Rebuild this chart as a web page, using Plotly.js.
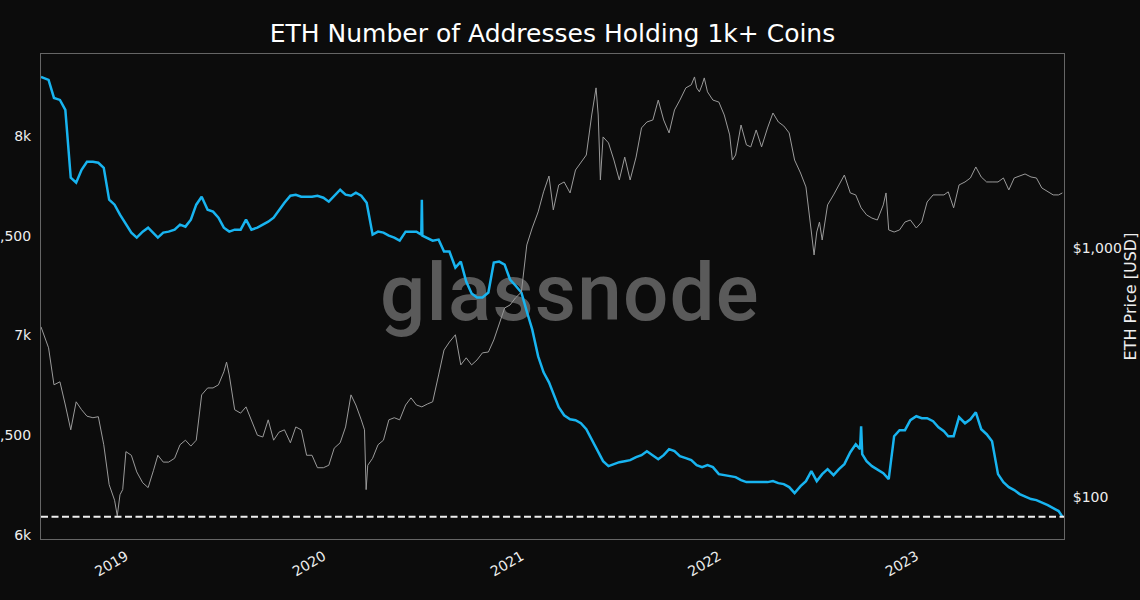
<!DOCTYPE html>
<html>
<head>
<meta charset="utf-8">
<script src="https://cdn.plot.ly/plotly-3.0.1.min.js"></script>
<style>
    html, body { margin: 0; padding: 0; background: #0c0c0c; }
    #chart { width: 1140px; height: 600px; }
</style>
</head>
<body>
<div id="chart"></div>
<script>
// Addresses holding 1k+ ETH (left axis)
const addrDates = [
    '2018-07-28', '2018-08-01', '2018-08-11', '2018-08-21', '2018-09-01', '2018-09-11', '2018-09-21', '2018-10-01', '2018-10-11', '2018-10-21', '2018-11-01', '2018-11-11', '2018-11-21', '2018-12-01', '2018-12-11', '2018-12-21',
    '2019-01-01', '2019-01-11', '2019-01-21', '2019-02-01', '2019-02-11', '2019-02-21', '2019-03-01', '2019-03-11', '2019-03-21', '2019-04-01', '2019-04-11', '2019-04-21', '2019-05-01', '2019-05-11', '2019-05-21', '2019-06-01', '2019-06-11', '2019-06-21', '2019-07-01', '2019-07-11', '2019-07-21', '2019-08-01', '2019-08-11', '2019-08-21', '2019-09-01', '2019-09-11', '2019-09-21', '2019-10-01', '2019-10-11', '2019-10-21', '2019-11-01', '2019-11-11', '2019-11-21', '2019-12-01', '2019-12-11', '2019-12-21',
    '2020-01-01', '2020-01-11', '2020-01-21', '2020-02-01', '2020-02-11', '2020-02-21', '2020-03-01', '2020-03-11', '2020-03-21', '2020-04-01', '2020-04-11', '2020-04-21', '2020-05-01', '2020-05-11', '2020-05-21', '2020-06-01', '2020-06-11', '2020-06-21', '2020-06-30', '2020-07-01', '2020-07-02', '2020-07-11', '2020-07-21', '2020-08-01', '2020-08-11', '2020-08-21', '2020-09-01', '2020-09-11', '2020-09-21', '2020-10-01', '2020-10-11', '2020-10-21', '2020-11-01', '2020-11-11', '2020-11-21', '2020-12-01', '2020-12-11', '2020-12-21',
    '2021-01-01', '2021-01-11', '2021-01-21', '2021-02-01', '2021-02-11', '2021-02-21', '2021-03-01', '2021-03-11', '2021-03-21', '2021-04-01', '2021-04-11', '2021-04-21', '2021-05-01', '2021-05-11', '2021-05-21', '2021-06-01', '2021-06-11', '2021-06-21', '2021-07-01', '2021-07-11', '2021-07-21', '2021-08-01', '2021-08-11', '2021-08-21', '2021-09-01', '2021-09-11', '2021-09-21', '2021-10-01', '2021-10-11', '2021-10-21', '2021-11-01', '2021-11-11', '2021-11-21', '2021-12-01', '2021-12-11', '2021-12-21',
    '2022-01-01', '2022-01-11', '2022-01-21', '2022-02-01', '2022-02-11', '2022-02-21', '2022-03-01', '2022-03-11', '2022-03-21', '2022-04-01', '2022-04-11', '2022-04-21', '2022-05-01', '2022-05-11', '2022-05-21', '2022-06-01', '2022-06-11', '2022-06-21', '2022-07-01', '2022-07-11', '2022-07-21', '2022-08-01', '2022-08-11', '2022-08-21', '2022-09-01', '2022-09-11', '2022-09-19', '2022-09-21', '2022-09-23', '2022-10-01', '2022-10-11', '2022-10-21', '2022-11-01', '2022-11-11', '2022-11-21', '2022-12-01', '2022-12-11', '2022-12-21',
    '2023-01-01', '2023-01-11', '2023-01-21', '2023-02-01', '2023-02-11', '2023-02-21', '2023-03-01', '2023-03-11', '2023-03-21', '2023-04-01', '2023-04-11', '2023-04-21', '2023-05-01', '2023-05-11', '2023-05-21', '2023-06-01', '2023-06-11', '2023-06-21', '2023-07-01', '2023-07-11', '2023-07-21', '2023-08-01', '2023-08-11', '2023-08-21', '2023-09-01', '2023-09-11', '2023-09-21', '2023-09-28',
];
const addrValues = [
    8295, 8290, 8280, 8190, 8180, 8130, 7790, 7765, 7830, 7870, 7870, 7865, 7840, 7680, 7655, 7605,
    7555, 7515, 7490, 7520, 7540, 7510, 7490, 7515, 7520, 7530, 7555, 7545, 7580, 7655, 7695, 7630, 7620, 7590, 7540, 7520, 7530, 7530, 7580, 7530, 7540, 7555, 7570, 7590, 7630, 7665, 7700, 7705, 7695, 7695, 7695, 7700,
    7690, 7670, 7700, 7730, 7705, 7700, 7715, 7700, 7665, 7505, 7520, 7515, 7500, 7490, 7475, 7520, 7520, 7520, 7505, 7680, 7500, 7490, 7475, 7480, 7420, 7420, 7340, 7370, 7270, 7210, 7190, 7190, 7215, 7365, 7370, 7355, 7280, 7250,
    7215, 7120, 7030, 6895, 6815, 6765, 6705, 6640, 6600, 6580, 6575, 6560, 6530, 6480, 6430, 6370, 6345, 6355, 6365, 6370, 6375, 6390, 6400, 6420, 6400, 6380, 6400, 6430, 6420, 6395, 6385, 6375, 6350, 6340, 6350, 6340,
    6305, 6300, 6295, 6290, 6275, 6265, 6265, 6265, 6265, 6265, 6270, 6260, 6255, 6240, 6210, 6245, 6270, 6320, 6270, 6305, 6330, 6300, 6330, 6355, 6415, 6455, 6430, 6545, 6405, 6370, 6345, 6330, 6310, 6280, 6495, 6525, 6525, 6575,
    6595, 6585, 6585, 6570, 6540, 6520, 6495, 6495, 6590, 6560, 6580, 6615, 6530, 6505, 6470, 6305, 6265, 6240, 6225, 6205, 6195, 6180, 6175, 6165, 6150, 6135, 6120, 6092,
];

// ETH price in USD (right axis, log)
const priceDates = [
    '2018-07-28', '2018-08-01', '2018-08-11', '2018-08-21', '2018-09-01', '2018-09-11', '2018-09-21', '2018-10-01', '2018-10-11', '2018-10-21', '2018-11-01', '2018-11-11', '2018-11-21', '2018-12-01', '2018-12-11', '2018-12-16', '2018-12-21', '2018-12-26',
    '2019-01-01', '2019-01-11', '2019-01-21', '2019-02-01', '2019-02-11', '2019-02-21', '2019-03-01', '2019-03-11', '2019-03-21', '2019-04-01', '2019-04-11', '2019-04-21', '2019-05-01', '2019-05-11', '2019-05-21', '2019-06-01', '2019-06-11', '2019-06-21', '2019-07-01', '2019-07-06', '2019-07-11', '2019-07-21', '2019-08-01', '2019-08-11', '2019-08-21', '2019-09-01', '2019-09-11', '2019-09-21', '2019-10-01', '2019-10-11', '2019-10-21', '2019-11-01', '2019-11-11', '2019-11-21', '2019-12-01', '2019-12-11', '2019-12-21',
    '2020-01-01', '2020-01-11', '2020-01-21', '2020-02-01', '2020-02-11', '2020-02-21', '2020-03-01', '2020-03-11', '2020-03-17', '2020-03-20', '2020-03-23', '2020-04-01', '2020-04-11', '2020-04-21', '2020-05-01', '2020-05-11', '2020-05-21', '2020-06-01', '2020-06-11', '2020-06-21', '2020-07-01', '2020-07-11', '2020-07-21', '2020-08-01', '2020-08-11', '2020-08-21', '2020-09-01', '2020-09-11', '2020-09-21', '2020-10-01', '2020-10-11', '2020-10-21', '2020-11-01', '2020-11-11', '2020-11-21', '2020-12-01', '2020-12-11', '2020-12-21',
    '2021-01-01', '2021-01-11', '2021-01-21', '2021-02-01', '2021-02-11', '2021-02-21', '2021-03-01', '2021-03-11', '2021-03-21', '2021-04-01', '2021-04-11', '2021-04-21', '2021-05-01', '2021-05-11', '2021-05-19', '2021-05-23', '2021-05-27', '2021-06-01', '2021-06-11', '2021-06-21', '2021-07-01', '2021-07-11', '2021-07-21', '2021-08-01', '2021-08-11', '2021-08-21', '2021-09-01', '2021-09-11', '2021-09-21', '2021-10-01', '2021-10-11', '2021-10-21', '2021-11-01', '2021-11-11', '2021-11-17', '2021-11-21', '2021-11-26', '2021-12-01', '2021-12-05', '2021-12-11', '2021-12-21',
    '2022-01-01', '2022-01-11', '2022-01-21', '2022-01-26', '2022-02-01', '2022-02-11', '2022-02-21', '2022-03-01', '2022-03-11', '2022-03-21', '2022-04-01', '2022-04-11', '2022-04-21', '2022-05-01', '2022-05-11', '2022-05-21', '2022-06-01', '2022-06-11', '2022-06-21', '2022-06-26', '2022-07-01', '2022-07-06', '2022-07-11', '2022-07-21', '2022-08-01', '2022-08-11', '2022-08-21', '2022-09-01', '2022-09-11', '2022-09-21', '2022-10-01', '2022-10-11', '2022-10-21', '2022-11-01', '2022-11-06', '2022-11-11', '2022-11-21', '2022-12-01', '2022-12-11', '2022-12-21',
    '2023-01-01', '2023-01-11', '2023-01-21', '2023-02-01', '2023-02-11', '2023-02-21', '2023-03-01', '2023-03-11', '2023-03-21', '2023-04-01', '2023-04-11', '2023-04-21', '2023-05-01', '2023-05-11', '2023-05-21', '2023-06-01', '2023-06-11', '2023-06-21', '2023-07-01', '2023-07-11', '2023-07-21', '2023-08-01', '2023-08-11', '2023-08-21', '2023-09-01', '2023-09-11', '2023-09-21', '2023-09-28',
];
const priceValues = [
    482, 456, 397, 282, 290, 234, 186, 241, 224, 211, 208, 210, 162, 112, 97, 84, 102, 107,
    152, 147, 126, 114, 109, 128, 147, 138, 138, 143, 162, 169, 160, 169, 257, 274, 274, 282, 318, 348, 309, 224, 217, 230, 204, 177, 174, 204, 169, 182, 186, 165, 191, 186, 147, 147, 131,
    131, 134, 157, 165, 191, 257, 234, 204, 186, 107, 134, 143, 162, 169, 204, 208, 204, 234, 250, 234, 230, 236, 241, 309, 389, 419, 448, 339, 362, 339, 355, 379, 382, 427, 491, 574, 590, 630,
    665, 1028, 1203, 1396, 1680, 1945, 1422, 1791, 1841, 1663, 2056, 2193, 2362, 3420, 4395, 3420, 1875, 2792, 2642, 2255, 1875, 2317, 1875, 2317, 3034, 3206, 3266, 3926, 3266, 2897, 3583, 3926, 4395, 4519, 4862, 4395, 4237, 4519, 4819, 4237, 3926,
    3855, 3420, 2844, 2255, 2362, 3118, 2594, 2546, 2978, 2546, 3034, 3484, 3206, 3090, 2897, 2255, 2000, 1758, 1159, 937, 1159, 1271, 1076, 1489, 1633, 1791, 1963, 1663, 1633, 1449, 1358, 1318, 1295, 1489, 1663, 1181, 1159, 1181, 1271, 1295,
    1203, 1271, 1530, 1633, 1633, 1633, 1680, 1449, 1791, 1841, 1910, 2115, 1928, 1841, 1841, 1841, 1910, 1710, 1910, 1945, 1982, 1928, 1910, 1742, 1680, 1633, 1633, 1663,
];

const yearTicks = ['2019-01-01', '2020-01-01', '2021-01-01', '2022-01-01', '2023-01-01'];
const yearLabels = ['2019', '2020', '2021', '2022', '2023'];
const addrTicks = [6000, 6500, 7000, 7500, 8000];
const addrTickLabels = ['6k', '6,500', '7k', '7,500', '8k'];
const priceTicks = [100, 1000];
const priceTickLabels = ['$100', '$1,000'];

const BG = '#0c0c0c';
const FONT = 'DejaVu Sans, sans-serif';
const TEXT = '#eeeeee';
const SPINE = '#666666';

const latestAddr = addrValues[addrValues.length - 1];

// watermark drawn as an svg image so it can sit below the lines
const watermarkSvg = '<svg xmlns="http://www.w3.org/2000/svg" width="400" height="110">'
    + '<text x="200" y="80" text-anchor="middle" font-family="Roboto" font-weight="500" '
    + 'letter-spacing="1.2" font-size="80" fill="#5a5a5a">glassnode</text></svg>';
const watermarkSrc = 'data:image/svg+xml;charset=utf-8,' + encodeURIComponent(watermarkSvg);

const data = [
    {
        x: addrDates,
        y: addrValues,
        type: 'scatter',
        mode: 'lines',
        name: 'Addresses',
        line: { color: '#18b4f0', width: 2.5 },
        yaxis: 'y',
    },
    {
        x: priceDates,
        y: priceValues,
        type: 'scatter',
        mode: 'lines',
        name: 'Price',
        line: { color: '#9a9a9a', width: 1 },
        yaxis: 'y2',
    },
];

const layout = {
    width: 1140,
    height: 600,
    margin: { l: 41, r: 76, t: 54, b: 61 },
    paper_bgcolor: BG,
    plot_bgcolor: 'rgba(0,0,0,0)',
    showlegend: false,
    font: { family: FONT, color: TEXT, size: 14 },
    title: {
        text: 'ETH Number of Addresses Holding 1k+ Coins',
        font: { family: FONT, size: 25, color: '#ffffff' },
        x: 0.5,
        xref: 'paper',
        y: 1 - 33 / 600,
        yanchor: 'middle',
    },
    xaxis: {
        type: 'date',
        range: ['2018-07-28', '2023-10-01'],
        tickvals: yearTicks,
        ticktext: yearLabels,
        tickangle: -30,
        ticks: 'outside',
        ticklen: 3,
        tickcolor: BG,
        tickfont: { family: FONT, size: 14, color: TEXT },
        showline: true,
        mirror: true,
        linecolor: SPINE,
        linewidth: 1,
        showgrid: false,
        zeroline: false,
    },
    yaxis: {
        range: [5980, 8410],
        tickvals: addrTicks,
        ticktext: addrTickLabels,
        ticks: 'outside',
        ticklen: 6,
        tickcolor: BG,
        tickfont: { family: FONT, size: 14, color: TEXT },
        showline: true,
        mirror: true,
        linecolor: SPINE,
        linewidth: 1,
        showgrid: false,
        zeroline: false,
    },
    yaxis2: {
        type: 'log',
        overlaying: 'y',
        side: 'right',
        range: [1.831, 3.779],
        tickvals: priceTicks,
        ticktext: priceTickLabels,
        ticks: 'outside',
        ticklen: 5,
        tickcolor: BG,
        tickfont: { family: FONT, size: 14, color: TEXT },
        title: {
            text: 'ETH Price [USD]',
            font: { family: FONT, size: 16, color: TEXT },
            standoff: 14,
        },
        showline: false,
        showgrid: false,
        zeroline: false,
    },
    images: [
        {
            source: watermarkSrc,
            xref: 'paper',
            yref: 'paper',
            x: 0.517,
            y: 0.503,
            sizex: 400 / 1023,
            sizey: 110 / 485,
            xanchor: 'center',
            yanchor: 'middle',
            sizing: 'stretch',
            layer: 'below',
        },
    ],
    shapes: [
        {
            type: 'line',
            xref: 'paper',
            yref: 'y',
            x0: 0,
            x1: 1,
            y0: latestAddr,
            y1: latestAddr,
            line: { color: '#eeeeee', width: 2, dash: '7px,3.5px' },
        },
    ],
};

Plotly.newPlot('chart', data, layout, { staticPlot: true, displayModeBar: false });
</script>
</body>
</html>
